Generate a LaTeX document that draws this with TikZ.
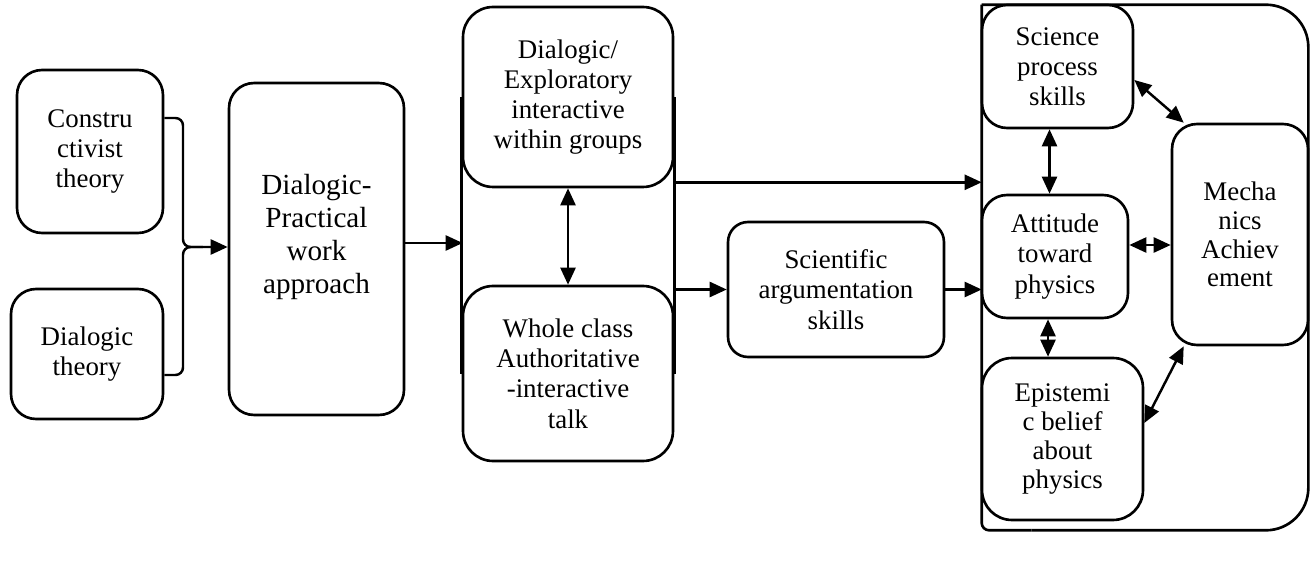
\documentclass[tikz,border=0pt]{standalone}
\usepackage{fontspec}
\setmainfont{Liberation Serif}
\usetikzlibrary{arrows.meta,positioning}
\tikzset{box/.style={draw,line width=1.5pt,rounded corners=5mm,fill=white,align=center,inner sep=2pt,font=\fontsize{15.3}{17.2}\selectfont},
  arr/.style={-{Triangle[length=3.4mm,width=3mm]},line width=1.4pt},
  darr/.style={{Triangle[length=3.4mm,width=3mm]}-{Triangle[length=3.4mm,width=3mm]},line width=1.4pt},
  frame/.style={line width=1.5pt}}
\begin{document}
\begin{tikzpicture}[x=0.02cm,y=-0.02cm]
\useasboundingbox (0,0) rectangle (1310,567);
\node[box,minimum width=2.92cm,minimum height=3.26cm] (cons) at (90,151.5) {Constru\\ctivist\\theory};
\node[box,minimum width=3.04cm,minimum height=2.6cm] (dlg) at (87,354) {Dialogic\\theory};
\node[box,minimum width=3.5cm,minimum height=6.64cm,font=\fontsize{16.6}{18.8}\selectfont] (prac) at (316.5,249) {Dialogic-\\Practical\\work\\approach\\[-2pt]\mbox{}};
\node[minimum width=4.2cm,minimum height=9.08cm,inner sep=0pt] (talk) at (568,234) {};
\node[box,rounded corners=6mm,minimum width=4.2cm,minimum height=3.6cm] (explo) at (568,97) {Dialogic/\\Exploratory\\interactive\\within groups};
\node[box,rounded corners=6mm,minimum width=4.2cm,minimum height=3.5cm] (whole) at (568,373.5) {Whole class\\Authoritative\\-interactive\\talk};
\draw[frame] (explo.west) -- (whole.west) (explo.east) -- (whole.east);
\node[box,rounded corners=4mm,minimum width=4.32cm,minimum height=2.7cm] (sci) at (836,289.5) {Scientific\\argumentation\\skills};
\node[minimum width=6.52cm,minimum height=10.5cm,inner sep=0pt] (outc) at (1145,267.5) {};
\draw[frame,rounded corners=1.5mm] (outc.north west) -- (outc.south west) -- ([xshift=1cm]outc.south west);
\draw[frame,rounded corners=8.5mm] (outc.north west) -- (outc.north east) -- (outc.south east) -- ([xshift=1cm]outc.south west);
\node[box,minimum width=3.02cm,minimum height=2.46cm] (proc) at (1057.5,66.5) {Science\\process\\skills};
\node[box,minimum width=2.92cm,minimum height=2.46cm] (atti) at (1055,256.5) {Attitude\\toward\\physics};
\node[box,rounded corners=6mm,minimum width=3.22cm,minimum height=3.24cm,font=\fontsize{15.3}{16.4}\selectfont] (epis) at (1062.5,439) {Epistemi\\c belief\\about\\physics};
\node[box,minimum width=2.72cm,minimum height=4.42cm,font=\fontsize{15.3}{16.4}\selectfont] (mech) at (1240,234.5) {Mecha\\nics\\Achiev\\ement};
\coordinate (jn) at (183,247);
\draw[arr,rounded corners=1.5mm] ([yshift=6.7mm]cons.east) -| (jn) -- (jn -| prac.west);
\draw[line width=1.4pt,rounded corners=1.5mm] ([yshift=-4.2mm]dlg.east) -| (jn) -- ([xshift=4mm]jn);
\draw[arr] ([yshift=1.2mm]prac.east) -- ([yshift=1.2mm]prac.east -| talk.west);
\draw[darr] (explo.south) -- (whole.north);
\coordinate (e1) at ([yshift=1.2mm]explo.south east);
\draw[arr] (e1) -- (e1 -| outc.west);
\draw[arr] (sci.west -| whole.east) -- (sci.west);
\draw[arr] (sci.east) -- (sci.east -| outc.west);
\draw[darr] ([xshift=-1.6mm]proc.south) -- ([xshift=-1.6mm]proc.south |- atti.north);
\draw[darr] ([xshift=-1.4mm]atti.south) -- ([xshift=-1.4mm]atti.south |- epis.north);
\draw[darr] ([yshift=-2.7mm]proc.east) -- ([xshift=2.6mm]mech.north west);
\draw[darr] ([yshift=2.3mm]atti.east) -- ([yshift=2.3mm]atti.east -| mech.west);
\draw[darr] ([yshift=3.2mm]epis.east) -- ([xshift=2.6mm]mech.south west);
\end{tikzpicture}
\end{document}
